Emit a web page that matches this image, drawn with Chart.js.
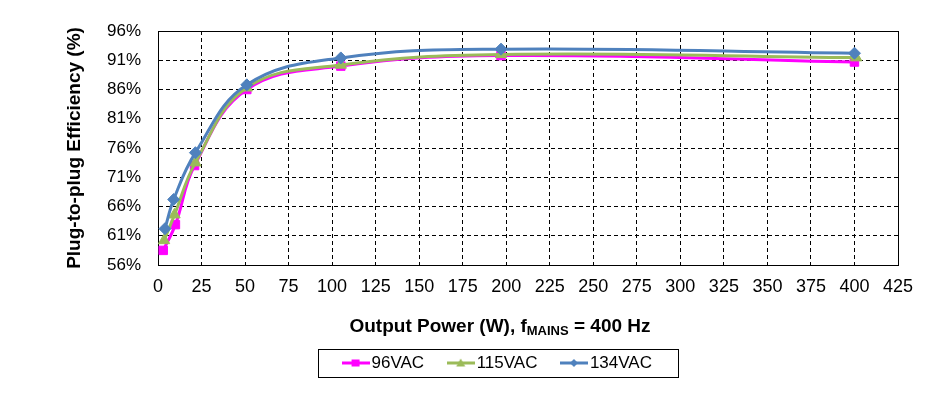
<!DOCTYPE html>
<html><head><meta charset="utf-8">
<script src="https://cdn.jsdelivr.net/npm/chart.js@4.4.0/dist/chart.umd.min.js"></script>
<style>html,body{margin:0;padding:0;background:#fff;}#wrap{width:943px;height:399px;}</style>
</head><body><div id="wrap"><canvas id="c" width="943" height="399"></canvas></div>
<script>
const seriesNames = ['96VAC', '115VAC', '134VAC'];
const power96  = [3, 10, 21, 51, 105, 197, 400];
const eff96    = [58.5, 62.9, 73.0, 86.0, 90.0, 91.8, 90.7];
const power115 = [3.5, 9.5, 21.5, 51, 105, 197, 401];
const eff115   = [60.2, 64.6, 73.5, 86.3, 90.2, 92.0, 91.45];
const power134 = [4, 9, 21.5, 51, 105, 197, 400];
const eff134   = [62.2, 67.2, 75.2, 86.8, 91.4, 92.9, 92.2];
const xTicks = [0, 25, 50, 75, 100, 125, 150, 175, 200, 225, 250, 275, 300, 325, 350, 375, 400, 425];
const yTicks = [56, 61, 66, 71, 76, 81, 86, 91, 96];
const yTitle = 'Plug-to-plug Efficiency (%)';
const xTitleMain = 'Output Power (W), f';
const xTitleSub = 'MAINS';
const xTitleEnd = ' = 400 Hz';

const FONT = '"Liberation Sans", Arial, sans-serif';
const colors = ['#FF00FF', '#9BBB59', '#4F81BD'];
const shapes = ['rect', 'triangle', 'rectRot'];

function makeLegendIcon(color, shape) {
  const c = document.createElement('canvas');
  c.width = 28; c.height = 12;
  const g = c.getContext('2d');
  g.strokeStyle = color; g.lineWidth = 3;
  g.beginPath(); g.moveTo(0, 6); g.lineTo(28, 6); g.stroke();
  g.fillStyle = color;
  g.beginPath();
  if (shape === 'rect') g.rect(10, 2.5, 8, 7);
  else if (shape === 'triangle') { g.moveTo(14, 1.5); g.lineTo(18.5, 9.5); g.lineTo(9.5, 9.5); g.closePath(); }
  else { g.moveTo(14, 2); g.lineTo(18, 6); g.lineTo(14, 10); g.lineTo(10, 6); g.closePath(); }
  g.fill();
  return c;
}
const legendIcons = colors.map((c, i) => makeLegendIcon(c, shapes[i]));

function pts(xs, ys) { return xs.map((x, i) => ({x: x, y: ys[i]})); }
const seriesData = [pts(power96, eff96), pts(power115, eff115), pts(power134, eff134)];
const pointRadii = [6, 6.5, 6];

const datasets = seriesNames.map((name, i) => ({
  label: name,
  data: seriesData[i],
  borderColor: colors[i],
  backgroundColor: colors[i],
  borderWidth: 3,
  pointStyle: shapes[i],
  pointRadius: pointRadii[i],
  pointBorderWidth: 1,
  pointBackgroundColor: colors[i],
  pointBorderColor: colors[i],
  tension: 0.4,
  order: 3 - i,
  clip: false
}));

const decor = {
  id: 'decor',
  afterLayout(chart) {
    const lg = chart.legend;
    if (!lg) return;
    const d = 500 - (lg.left + lg.right) / 2;
    lg.left += d; lg.right += d;
  },
  beforeDatasetsDraw(chart) {
    const a = chart.chartArea, ctx = chart.ctx;
    ctx.save();
    ctx.strokeStyle = '#000'; ctx.lineWidth = 1;
    ctx.strokeRect(Math.round(a.left) + 0.5, Math.round(a.top) + 0.5, Math.round(a.right - a.left), Math.round(a.bottom - a.top));
    ctx.restore();
  },
  afterDraw(chart) {
    const ctx = chart.ctx;
    ctx.save();
    ctx.fillStyle = '#000';
    ctx.textBaseline = 'alphabetic';
    const mainFont = 'bold 19px ' + FONT;
    const subFont = 'bold 13px ' + FONT;
    ctx.font = mainFont; const w1 = ctx.measureText(xTitleMain).width; const w3 = ctx.measureText(xTitleEnd).width;
    ctx.font = subFont; const w2 = ctx.measureText(xTitleSub).width;
    let x = 500 - (w1 + w2 + w3) / 2;
    ctx.textAlign = 'left';
    ctx.font = mainFont; ctx.fillText(xTitleMain, x, 332); x += w1;
    ctx.font = subFont; ctx.fillText(xTitleSub, x, 335); x += w2;
    ctx.font = mainFont; ctx.fillText(xTitleEnd, x, 332);
    // legend frame
    const lg = chart.legend;
    if (lg && lg.legendHitBoxes && lg.legendHitBoxes.length) {
      const hb = lg.legendHitBoxes;
      const first = hb[0], last = hb[hb.length - 1];
      const cy = first.top + first.height / 2;
      const l = Math.round(first.left - 6.5 - 24) + 0.5;
      const r = Math.round(last.left + last.width + 26) + 0.5;
      const t = Math.round(cy - 14) + 0.5;
      ctx.strokeStyle = '#000'; ctx.lineWidth = 1;
      ctx.strokeRect(l, t, r - l, 28);
    }
    ctx.restore();
  }
};

new Chart(document.getElementById('c'), {
  type: 'line',
  data: {datasets: datasets},
  options: {
    responsive: false,
    animation: false,
    devicePixelRatio: 1,
    layout: {padding: {top: 31, right: 45, left: 0, bottom: 17.5}},
    plugins: {
      tooltip: {enabled: false},
      legend: {
        position: 'bottom',
        labels: {
          usePointStyle: true,
          pointStyleWidth: 15,
          padding: 29,
          color: '#000',
          font: {size: 17, family: FONT},
          sort: (a, b) => a.datasetIndex - b.datasetIndex,
          generateLabels: (chart) => {
            const items = Chart.defaults.plugins.legend.labels.generateLabels(chart);
            items.forEach(it => { it.pointStyle = legendIcons[it.datasetIndex]; });
            return items;
          }
        }
      }
    },
    scales: {
      x: {
        type: 'linear', min: 0, max: 425,
        afterBuildTicks: s => { s.ticks = xTicks.map(v => ({value: v})); },
        afterFit: s => { s.height = 60.5; },
        ticks: {color: '#000', font: {size: 18, family: FONT}, padding: 11, maxRotation: 0, autoSkip: false},
        grid: {color: '#000', lineWidth: 1, drawTicks: false},
        border: {color: '#000', width: 1, dash: [4, 3]}
      },
      y: {
        type: 'linear', min: 56, max: 96,
        afterBuildTicks: s => { s.ticks = yTicks.map(v => ({value: v})); },
        afterFit: s => { s.width = 158; },
        ticks: {color: '#000', font: {size: 17, family: FONT}, padding: 17, callback: v => v + '%', autoSkip: false},
        grid: {color: '#000', lineWidth: 1, drawTicks: false},
        border: {color: '#000', width: 1, dash: [4, 3]},
        title: {display: true, text: yTitle, color: '#000', font: {size: 19, weight: 'bold', family: FONT}, padding: {top: 63.6, bottom: 0}}
      }
    }
  },
  plugins: [decor]
});
</script>
</body></html>
